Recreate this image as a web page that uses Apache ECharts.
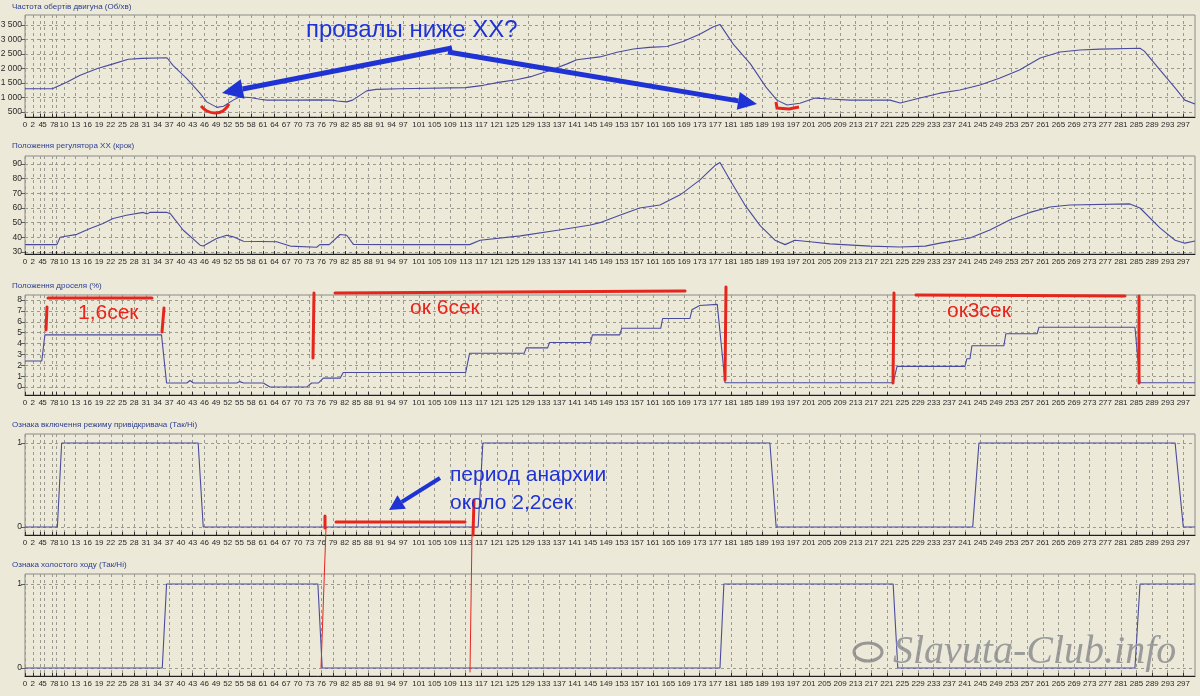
<!DOCTYPE html>
<html><head><meta charset="utf-8">
<script src="https://cdn.jsdelivr.net/npm/echarts@6/dist/echarts.min.js"></script>
<style>html,body{margin:0;padding:0;background:#ECE9D8;}#c{width:1200px;height:696px;}</style>
</head><body><div id="c"></div>
<script>
// ---------- data ----------
const panelTitles = [
  'Частота обертів двигуна (Об/хв)',
  'Положення регулятора ХХ (крок)',
  'Положення дроселя (%)',
  'Ознака включення режиму привідкривача (Так/Ні)',
  'Ознака холостого ходу (Так/Ні)'
];
const xTickLabels = [0,2,4,5,7,8,10,13,16,19,22,25,28,31,34,37,40,43,46,49,52,55,58,61,64,67,70,73,76,79,82,85,88,91,94,
  97,101,105,109,113,117,121,125,129,133,137,141,145,149,153,157,161,165,169,173,177,181,185,189,193,197,
  201,205,209,213,217,221,225,229,233,237,241,245,249,253,257,261,265,269,273,277,281,285,289,293,297];
const rpmTicks = [500,1000,1500,2000,2500,3000,3500];
const iacTicks = [30,40,50,60,70,80,90];
const throttleTicks = [0,1,2,3,4,5,6,7,8];
const flagTicks = [0,1];

const rpm = [[0,1300],[7,1300],[10.7,1530],[14,1760],[18.4,1990],[22.6,2160],[26.5,2320],[30,2350],[36.4,2370],
  [38,2100],[41.5,1650],[44.9,1140],[46.6,850],[49.2,660],[50.9,700],[53.4,910],[55,1020],[57.7,1000],[60.3,940],
  [62,910],[70,910],[75,920],[79,910],[80,880],[82.5,850],[84,910],[87.6,1230],[90,1280],[96,1300],[113,1340],
  [117.5,1420],[121.8,1530],[126,1610],[130,1730],[134.6,1930],[139,2160],[141.5,2300],[147.4,2400],[151.8,2560],
  [156,2670],[160,2730],[164.6,2760],[168.7,2930],[173,3180],[176.4,3430],[178.2,3520],[181.6,2840],[186,2160],
  [190,1360],[192.8,910],[195.4,740],[198.7,800],[202.6,980],[206.4,950],[211.5,910],[221.8,910],[224.4,810],
  [229.5,980],[234.6,1150],[239.7,1260],[244.9,1430],[250,1670],[255,1950],[260.3,2360],[265.4,2570],[270.5,2640],
  [275.6,2670],[285.9,2700],[287,2600],[291,1950],[294.9,1330],[297.4,910],[300,780]];
const iac = [[0,35],[8.2,35],[9,40],[13.3,42],[16.7,46],[20,49.4],[22.6,52.8],[26,55],[30.3,57],[31.3,56],[32,57],
  [36.4,57],[37.3,56],[40.6,44.8],[44.9,34.6],[45.7,34],[49,39],[51.7,41.4],[53.4,40.3],[56,37.3],[64.5,37],[68,34],
  [74.8,33.2],[75.6,35],[78,35],[80.8,41.9],[82.5,41.4],[84.2,35.2],[96,35],[114,35],[116.7,38],[127,41],[137,45],
  [145,48.4],[147.4,50],[152.5,55],[157.6,60],[162.8,62],[168,69],[173,79],[176.9,89],[178.2,91],[180.8,79],
  [184.6,62],[188.5,48],[192.3,38],[194.9,35],[197.4,38],[201.3,37],[206.4,35.5],[216.7,34],[224.4,33.4],
  [230.8,34],[234.6,36],[242.3,39.5],[247.4,45],[252.6,52],[257.7,57],[262.8,60.7],[267.9,62],[283.3,62.8],
  [285.9,60],[291,46.4],[294.9,38],[297.4,36],[300,37.5]];
const throttle = [[0,2.4],[4.3,2.4],[5.1,4.8],[35,4.8],[36.3,0.37],[41.5,0.37],[42.3,0.6],[43.2,0.37],[54.3,0.37],
  [55.1,0.5],[56,0.37],[61.1,0.37],[62.8,0],[72.2,0],[73.5,0.37],[75.2,0.37],[76.5,0.82],[80.8,0.82],[81.6,1.34],
  [113,1.34],[114,3.1],[128,3.1],[128.5,3.6],[134,3.6],[134.5,4.1],[145,4.1],[145.5,4.8],[152.5,4.8],[153,5.4],
  [163,5.4],[163.5,6.3],[170.5,6.3],[171,7.1],[173,7.5],[177.5,7.6],[179.5,0.4],[222.6,0.4],[223.6,1.9],[241,1.9],
  [241.5,2.6],[242.3,2.6],[242.8,3.8],[251,3.8],[251.5,4.9],[259.5,4.9],[260,5.5],[284.6,5.5],[285.9,0.4],[300,0.4]];
const openFlag = [[0,0],[8.3,0],[9.4,1],[44.4,1],[45.7,0],[116.2,0],[117.4,1],[191,1],[192.6,0],[243,0],[244.6,1],
  [294.9,1],[297,0],[300,0]];
const idleFlag = [[0,0],[35.2,0],[36.3,1],[75.1,1],[76.2,0],[178.2,0],[179.2,1],[222.6,1],[223.8,0],[284.6,0],
  [285.9,1],[300,1]];

// ---------- layout ----------
const panels = [
  {top:15, h:102, min:328, max:3845, ticks:rpmTicks, data:rpm, titleTop:3},
  {top:156, h:98, min:28.6, max:95.5, ticks:iacTicks, data:iac, titleTop:142},
  {top:295, h:100, min:-0.73, max:8.46, ticks:throttleTicks, data:throttle, titleTop:282},
  {top:434, h:101, min:-0.095, max:1.107, ticks:flagTicks, data:openFlag, titleTop:421},
  {top:574, h:102, min:-0.095, max:1.12, ticks:flagTicks, data:idleFlag, titleTop:561}
];
const FONT = "'Liberation Sans', Arial, sans-serif";
const lineColor = '#4a4a9e';
const gridLine = {show:true, lineStyle:{color:'#9a9a90', type:[3,3], width:1}};
const fmt = v => String(v).replace(/\B(?=(\d{3})+(?!\d))/g, ' ');

const grid = [], xAxis = [], yAxis = [], series = [], title = [];
panels.forEach((p, i) => {
  grid.push({left:25, width:1170, top:p.top, height:p.h, show:true, borderColor:'#8a8a8a', borderWidth:1,
    backgroundColor:'transparent', containLabel:false, outerBoundsMode:'none'});
  title.push({text:panelTitles[i], left:12, top:p.titleTop, padding:0,
    textStyle:{fontSize:8, color:'#2a3c90', fontWeight:'normal', fontFamily:FONT}});
  xAxis.push({type:'value', gridIndex:i, min:0, max:300,
    axisLine:{show:true, onZero:false, lineStyle:{color:'#202020', width:1}},
    axisTick:{show:true, inside:true, length:3, customValues:xTickLabels, lineStyle:{color:'#303030'}},
    axisLabel:{customValues:xTickLabels, margin:4, fontSize:8, color:'#2a2a2a', fontFamily:FONT, hideOverlap:false,
      showMinLabel:true, showMaxLabel:true},
    splitLine:gridLine});
  yAxis.push({type:'value', gridIndex:i, min:p.min, max:p.max,
    axisLine:{show:false},
    axisTick:{show:true, length:4, customValues:p.ticks, lineStyle:{color:'#606060'}},
    axisLabel:{customValues:p.ticks, margin:3, fontSize:8.5, color:'#2a2a2a', fontFamily:FONT, formatter:fmt},
    splitLine:gridLine});
  series.push({type:'line', xAxisIndex:i, yAxisIndex:i, data:p.data, showSymbol:false, silent:true,
    lineStyle:{color:lineColor, width:1.1}});
});

// ---------- hand-drawn annotations ----------
const BLUE = '#1f33d4', RED = '#e6251d';
function arrow(x1,y1,x2,y2,w,hl,hw,color){
  const dx=x2-x1, dy=y2-y1, L=Math.hypot(dx,dy), ux=dx/L, uy=dy/L, nx=-uy, ny=ux;
  const bx=x2-ux*hl, by=y2-uy*hl;
  return [
    {type:'line', shape:{x1:x1,y1:y1,x2:bx,y2:by}, style:{stroke:color, lineWidth:w}, z:100},
    {type:'polygon', shape:{points:[[x2,y2],[bx+nx*hw,by+ny*hw],[bx-nx*hw,by-ny*hw]]}, style:{fill:color}, z:100}
  ];
}
function seg(x1,y1,x2,y2,w,c){ return {type:'line', shape:{x1,y1,x2,y2}, style:{stroke:c, lineWidth:w, lineCap:'round'}, z:100}; }
function txt(x,y,s,size,c){ return {type:'text', x:x, y:y, style:{text:s, fill:c, font:size+"px 'Liberation Sans', Arial, sans-serif", textVerticalAlign:'middle'}, z:101}; }

const graphic = [].concat(
  [txt(306,30,'провалы ниже ХХ?',24,BLUE)],
  arrow(452,48,222,93,5,21,10,BLUE),
  arrow(448,52,757,104,5,19,9,BLUE),
  [{type:'polyline', shape:{points:[[201,106],[207,111],[215,113],[223,111],[229,104]], smooth:0.4}, style:{stroke:RED, lineWidth:3, fill:null}, z:100},
   {type:'polyline', shape:{points:[[776,102],[777,108],[789,109],[799,107]]}, style:{stroke:RED, lineWidth:3, fill:null}, z:100}],
  [seg(48,298,152,298,3,RED), seg(47,307,46,330,3,RED), seg(164,308,162,332,3,RED),
   seg(314,293,313,358,3,RED), seg(335,293,685,291,3,RED), seg(726,287,725,380,3,RED),
   seg(894,293,893,383,3,RED), seg(916,295,1125,296,3,RED), seg(1139,296,1139,383,3,RED)],
  [txt(78,313,'1,6сек',21,RED), txt(410,308,'ок 6сек',21,RED), txt(947,311,'ок3сек',21,RED)],
  [txt(450,475,'период анархии',21,BLUE), txt(450,503,'около 2,2сек',21,BLUE)],
  arrow(440,478,389,510,4,15,8,BLUE),
  [seg(336,522,465,522,3,RED), seg(325,516,325,528,3,RED), seg(474,500,473,535,3,RED),
   seg(326,528,321,668,1,RED), seg(472,535,470,672,1,RED)],
  [{type:'ellipse', shape:{cx:868, cy:652, rx:14, ry:9}, style:{stroke:'rgba(130,130,130,0.8)', lineWidth:3, fill:null}, z:90},
   {type:'text', x:893, y:652, style:{text:'Slavuta-Club.info', fill:'rgba(135,135,135,0.8)', stroke:'rgba(235,235,235,0.6)', lineWidth:1,
     font:"italic 40px 'Liberation Serif', 'DejaVu Serif', serif", textVerticalAlign:'middle'}, z:90}]
);

const chart = echarts.init(document.getElementById('c'), null, {renderer:'canvas'});
chart.setOption({backgroundColor:'#ECE9D8', animation:false, title, grid, xAxis, yAxis, series, graphic});
</script></body></html>
